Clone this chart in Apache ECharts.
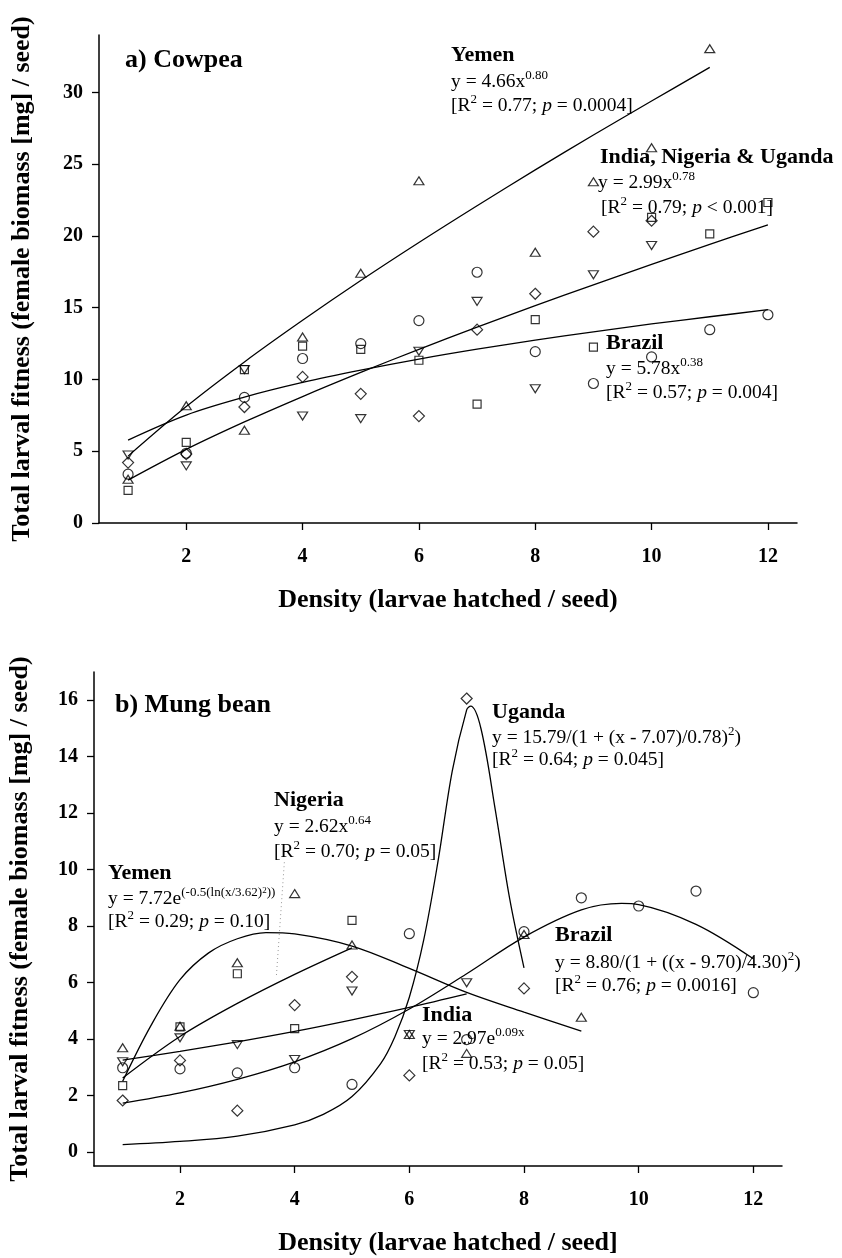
<!DOCTYPE html>
<html>
<head>
<meta charset="utf-8">
<title>Larval fitness vs density</title>
<script src="https://cdn.jsdelivr.net/npm/echarts@6/dist/echarts.min.js"></script>
<style>
  html, body { margin: 0; padding: 0; background: #fff; }
  #chart { width: 842px; height: 1258px; }
</style>
</head>
<body>
<div id="chart"></div>
<script>
// === TICKS ===
const xTicks = [2, 4, 6, 8, 10, 12];
const cowYTicks = [0, 5, 10, 15, 20, 25, 30];
const mungYTicks = [0, 2, 4, 6, 8, 10, 12, 14, 16];

// === a) COWPEA - observations [density, biomass] ===
const cowCircle = [[1, 3.4], [2, 4.86], [3, 8.75], [4, 11.46], [5, 12.5], [6, 14.1], [7, 17.47], [8, 11.94], [9, 9.72], [10, 11.57], [11, 13.47], [12, 14.51]];
const cowSquare = [[1, 2.27], [2, 5.62], [3, 10.69], [4, 12.33], [5, 12.1], [6, 11.34], [7, 8.28], [8, 14.17], [9, 12.26], [10, 21.3], [11, 20.14], [12, 22.33]];
const cowTriUp = [[1, 3.05], [2, 8.17], [3, 6.46], [4, 12.96], [5, 17.4], [6, 23.84], [8, 18.86], [9, 23.77], [10, 26.15], [11, 33.05]];
const cowTriDown = [[1, 4.74], [2, 3.98], [3, 10.69], [4, 7.45], [5, 7.27], [6, 11.97], [7, 15.44], [8, 9.35], [9, 17.29], [10, 19.33]];
const cowDiamond = [[1, 4.21], [2, 4.8], [3, 8.08], [4, 10.18], [5, 9.0], [6, 7.45], [7, 13.47], [8, 15.97], [9, 20.3], [10, 21.06]];

// fitted curves
const cowYemenFit = [[1, 4.66], [2, 8.11], [3, 11.22], [4, 14.12], [5, 16.89], [6, 19.54], [7, 22.1], [8, 24.6], [9, 27.03], [10, 29.4], [11, 31.74]];
const cowPooledFit = [[1, 2.99], [2, 5.13], [3, 7.04], [4, 8.81], [5, 10.49], [6, 12.1], [7, 13.64], [8, 15.14], [9, 16.59], [10, 18.02], [11, 19.41], [12, 20.77]];
const cowBrazilFit = [[1, 5.78], [2, 7.52], [3, 8.77], [4, 9.79], [5, 10.65], [6, 11.42], [7, 12.11], [8, 12.74], [9, 13.32], [10, 13.87], [11, 14.37], [12, 14.86]];

// === b) MUNG BEAN - observations ===
const mungCircle = [[1, 2.98], [2, 2.94], [3, 2.8], [4, 2.98], [5, 2.39], [6, 7.73], [7, 3.98], [8, 7.8], [9, 9.0], [10, 8.71], [11, 9.24], [12, 5.64]];
const mungSquare = [[1, 2.35], [2, 4.43], [3, 6.31], [4, 4.37], [5, 8.2]];
const mungTriUp = [[1, 3.69], [2, 4.45], [3, 6.7], [4, 9.15], [5, 7.33], [6, 4.16], [7, 3.49], [8, 7.7], [9, 4.77]];
const mungTriDown = [[1, 3.19], [2, 4.04], [3, 3.8], [4, 3.27], [5, 5.7], [6, 4.16], [7, 5.99]];
const mungDiamond = [[1, 1.82], [2, 3.24], [3, 1.46], [4, 5.2], [5, 6.2], [6, 2.71], [7, 16.06], [8, 5.79]];

const mungUgandaFit = [[1, 0.26], [2, 0.37], [3, 0.56], [4, 0.96], [4.5, 1.33], [5, 1.96], [5.5, 3.13], [5.75, 4.09], [6, 5.48], [6.25, 7.5], [6.5, 10.29], [6.75, 13.51], [7, 15.66], [7.07, 15.79], [7.25, 14.99], [7.5, 12.11], [7.75, 8.97], [8, 6.52]];
const mungBrazilFit = [[1, 1.73], [2, 2.09], [3, 2.57], [4, 3.19], [5, 4.01], [6, 5.06], [7, 6.31], [8, 7.61], [9, 8.57], [9.7, 8.8], [10, 8.76], [11, 8.06], [12, 6.84]];
const mungYemenFit = [[1, 2.5], [1.5, 4.5], [2, 6.1], [2.5, 7.05], [3, 7.55], [3.5, 7.77], [4, 7.72], [5, 7.29], [6, 6.5], [7, 5.65], [8, 4.95], [9, 4.28]];
const mungNigeriaFit = [[1, 2.62], [2, 4.09], [3, 5.26], [4, 6.29], [5, 7.23]];
const mungIndiaFit = [[1, 3.25], [2, 3.56], [3, 3.9], [4, 4.27], [5, 4.68], [6, 5.12], [7, 5.6]];
const nigeriaLeader = [[3.82, 10.26], [3.68, 6.2]];

// === STYLE ===
const SERIF = "'Liberation Serif', 'DejaVu Serif', serif";
const INK = '#000';

const rich = {
    b: { fontFamily: SERIF, fontWeight: 'bold', fontSize: 22, fill: INK, lineHeight: 26 },
    t: { fontFamily: SERIF, fontWeight: 'bold', fontSize: 26, fill: INK, lineHeight: 30 },
    n: { fontFamily: SERIF, fontSize: 19.5, fill: INK, lineHeight: 26 },
    i: { fontFamily: SERIF, fontSize: 19.5, fontStyle: 'italic', fill: INK, lineHeight: 26 },
    s: { fontFamily: SERIF, fontSize: 13, fill: INK, lineHeight: 10, verticalAlign: 'top' },
    ss: { fontFamily: SERIF, fontSize: 9, fill: INK, lineHeight: 2, verticalAlign: 'top' }
};

function label(x, y, text) {
    return {
        type: 'text', x: x, y: y, z: 100, silent: true,
        style: { text: text, rich: rich, align: 'left', verticalAlign: 'middle' }
    };
}

function axisTitle(x, y, text, rotation) {
    return {
        type: 'text', x: x, y: y, rotation: rotation || 0, z: 100, silent: true,
        style: {
            text: text, fontFamily: SERIF, fontWeight: 'bold', fontSize: 26, fill: INK,
            align: 'center', verticalAlign: 'middle'
        }
    };
}

function xAxisOf(gridIndex) {
    return {
        type: 'value', gridIndex: gridIndex, min: 0.5, max: 12.5,
        axisLine: { onZero: false, lineStyle: { color: INK, width: 1.5 } },
        axisTick: { customValues: xTicks, length: 7, lineStyle: { color: INK, width: 1.3 } },
        axisLabel: {
            customValues: xTicks, margin: 24, color: INK,
            fontFamily: SERIF, fontWeight: 'bold', fontSize: 20
        },
        splitLine: { show: false }
    };
}

function yAxisOf(gridIndex, min, max, ticks) {
    return {
        type: 'value', gridIndex: gridIndex, min: min, max: max,
        axisLine: { show: true, onZero: false, lineStyle: { color: INK, width: 1.5 } },
        axisTick: { customValues: ticks, length: 7, lineStyle: { color: INK, width: 1.3 } },
        axisLabel: {
            customValues: ticks, margin: 16, color: INK,
            fontFamily: SERIF, fontWeight: 'bold', fontSize: 20
        },
        splitLine: { show: false }
    };
}

function points(idx, data, symbol, size, rotate) {
    return {
        type: 'scatter', xAxisIndex: idx, yAxisIndex: idx, data: data,
        symbol: symbol, symbolSize: size, symbolRotate: rotate || 0,
        itemStyle: { color: 'rgba(0,0,0,0)', borderColor: INK, borderWidth: 1.2 },
        silent: true, z: 3
    };
}

function fit(idx, data) {
    return {
        type: 'line', xAxisIndex: idx, yAxisIndex: idx, data: data,
        showSymbol: false, smooth: 0.35, silent: true,
        lineStyle: { color: INK, width: 1.3 }, z: 2
    };
}

// === CHART ===
const chart = echarts.init(document.getElementById('chart'));

chart.setOption({
    animation: false,
    backgroundColor: '#fff',
    grid: [
        { left: 99, top: 35, width: 698, height: 488 },
        { left: 94, top: 672, width: 688, height: 494 }
    ],
    xAxis: [xAxisOf(0), xAxisOf(1)],
    yAxis: [yAxisOf(0, 0, 34, cowYTicks), yAxisOf(1, -0.5, 17, mungYTicks)],
    series: [
        fit(0, cowYemenFit), fit(0, cowPooledFit), fit(0, cowBrazilFit),
        points(0, cowCircle, 'circle', 10),
        points(0, cowSquare, 'rect', 8),
        points(0, cowTriUp, 'triangle', [10, 8]),
        points(0, cowTriDown, 'triangle', [10, 8], 180),
        points(0, cowDiamond, 'diamond', [11, 11]),

        fit(1, mungUgandaFit), fit(1, mungBrazilFit), fit(1, mungYemenFit),
        fit(1, mungNigeriaFit), fit(1, mungIndiaFit),
        {
            type: 'line', xAxisIndex: 1, yAxisIndex: 1, data: nigeriaLeader,
            showSymbol: false, silent: true,
            lineStyle: { color: '#999', width: 1, type: [1, 3] }
        },
        points(1, mungCircle, 'circle', 10),
        points(1, mungSquare, 'rect', 8),
        points(1, mungTriUp, 'triangle', [10, 8]),
        points(1, mungTriDown, 'triangle', [10, 8], 180),
        points(1, mungDiamond, 'diamond', [11, 11])
    ],
    graphic: [
        // panel a
        label(125, 60, '{t|a) Cowpea}'),
        label(451, 55, '{b|Yemen}'),
        label(451, 82, '{n|y = 4.66x}{s|0.80}'),
        label(451, 106, '{n|[R}{s|2}{n| = 0.77; }{i|p}{n| = 0.0004]}'),
        label(600, 157, '{b|India, Nigeria & Uganda}'),
        label(598, 183, '{n|y = 2.99x}{s|0.78}'),
        label(601, 208, '{n|[R}{s|2}{n| = 0.79; }{i|p}{n| < 0.001]}'),
        label(606, 343, '{b|Brazil}'),
        label(606, 369, '{n|y = 5.78x}{s|0.38}'),
        label(606, 393, '{n|[R}{s|2}{n| = 0.57; }{i|p}{n| = 0.004]}'),
        axisTitle(448, 600, 'Density (larvae hatched / seed)'),
        axisTitle(22, 279, 'Total larval fitness (female biomass [mg] / seed)', Math.PI / 2),

        // panel b
        label(115, 705, '{t|b) Mung bean}'),
        label(492, 712, '{b|Uganda}'),
        label(492, 738, '{n|y = 15.79/(1 + (x - 7.07)/0.78)}{s|2}{n|)}'),
        label(492, 760, '{n|[R}{s|2}{n| = 0.64; }{i|p}{n| = 0.045]}'),
        label(274, 800, '{b|Nigeria}'),
        label(274, 827, '{n|y = 2.62x}{s|0.64}'),
        label(274, 852, '{n|[R}{s|2}{n| = 0.70; }{i|p}{n| = 0.05]}'),
        label(108, 873, '{b|Yemen}'),
        label(108, 899, '{n|y = 7.72e}{s|(-0.5(ln(x/3.62)}{ss|2}{s|))}'),
        label(108, 922, '{n|[R}{s|2}{n| = 0.29; }{i|p}{n| = 0.10]}'),
        label(555, 935, '{b|Brazil}'),
        label(555, 963, '{n|y = 8.80/(1 + ((x - 9.70)/4.30)}{s|2}{n|)}'),
        label(555, 986, '{n|[R}{s|2}{n| = 0.76; }{i|p}{n| = 0.0016]}'),
        label(422, 1015, '{b|India}'),
        label(422, 1039, '{n|y = 2.97e}{s|0.09x}'),
        label(422, 1064, '{n|[R}{s|2}{n| = 0.53; }{i|p}{n| = 0.05]}'),
        axisTitle(448, 1243, 'Density (larvae hatched / seed]'),
        axisTitle(20, 919, 'Total larval fitness (female biomass [mg] / seed)', Math.PI / 2)
    ]
});
</script>
</body>
</html>
